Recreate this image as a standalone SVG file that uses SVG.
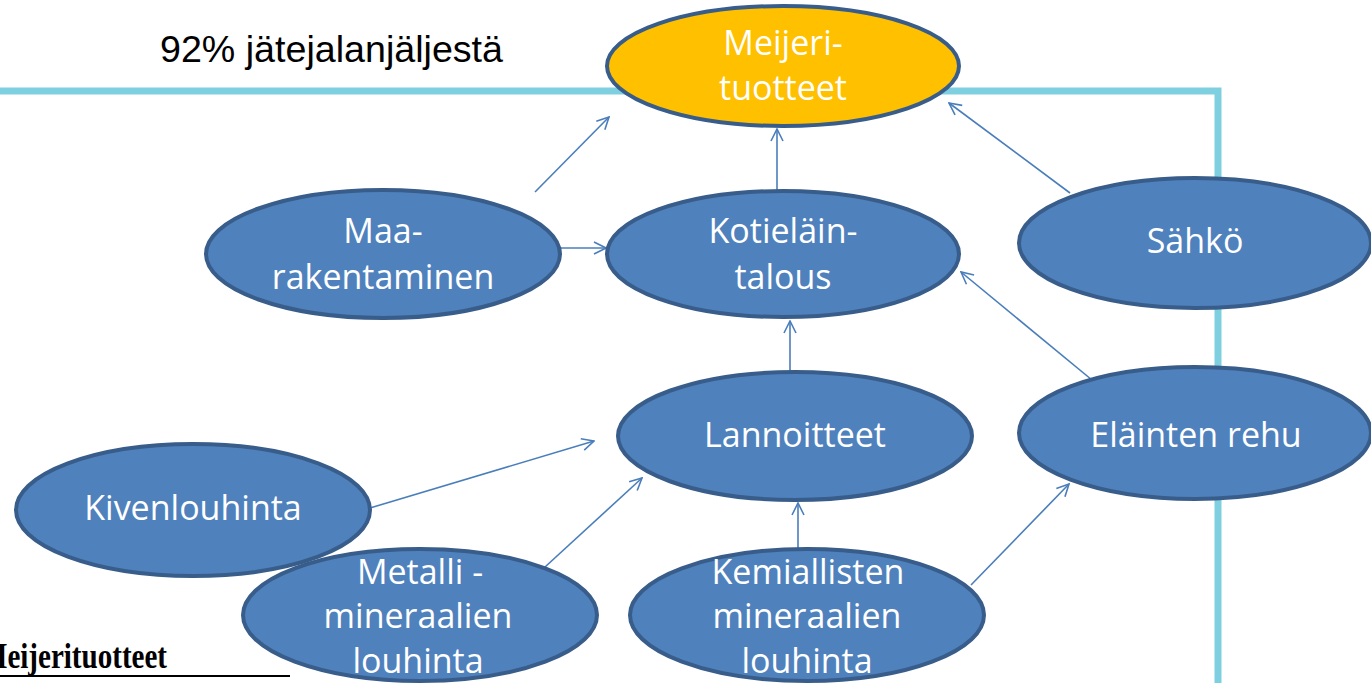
<svg xmlns="http://www.w3.org/2000/svg" width="1371" height="683" viewBox="0 0 1371 683">
<defs>
<style>
.n{fill:#4F81BD;stroke:#385D8A;stroke-width:4}
.y{fill:#FFC000;stroke:#385D8A;stroke-width:4}
.t{fill:#fff;font-family:"Open Sans","Noto Sans",sans-serif;font-size:34px;text-anchor:middle}
.c{stroke:#4A7EBB;stroke-width:1.6;fill:none;marker-end:url(#a)}
</style>
<marker id="a" viewBox="0 0 14 14" refX="13" refY="7" markerWidth="14" markerHeight="14" markerUnits="userSpaceOnUse" orient="auto">
<path d="M1,1 L13,7 L1,13" fill="none" stroke="#4A7EBB" stroke-width="1.6"/>
</marker>
</defs>
<rect width="1371" height="683" fill="#fff"/>
<polyline points="0,91 1218,91 1218,683" fill="none" stroke="#7ECFE0" stroke-width="7"/>
<text x="160" y="62" font-family="Liberation Sans, Arial, sans-serif" font-size="37" textLength="343" lengthAdjust="spacingAndGlyphs" fill="#000">92% jätejalanjäljestä</text>
<text x="-20" y="668" font-family="Liberation Serif, Times New Roman, serif" font-size="35" font-weight="bold" textLength="187" lengthAdjust="spacingAndGlyphs" fill="#000">Meijerituotteet</text>
<line x1="0" y1="676" x2="290" y2="676" stroke="#000" stroke-width="2"/>
<g id="connectors">
<line class="c" x1="535" y1="192" x2="609" y2="117"/>
<line class="c" x1="777" y1="190" x2="777" y2="129"/>
<line class="c" x1="1070" y1="193" x2="949" y2="103"/>
<line class="c" x1="532" y1="248" x2="606" y2="248"/>
<line class="c" x1="790" y1="380" x2="790" y2="321"/>
<line class="c" x1="1092" y1="380" x2="961" y2="272"/>
<line class="c" x1="370" y1="508" x2="594" y2="441"/>
<line class="c" x1="545" y1="567" x2="642" y2="478"/>
<line class="c" x1="798" y1="553" x2="798" y2="503"/>
<line class="c" x1="971" y1="585" x2="1069" y2="484"/>
</g>
<g id="meijeri"><ellipse class="y" cx="783" cy="66" rx="176" ry="60"/><text class="t" x="783" y="55">Meijeri-</text><text class="t" x="783" y="100">tuotteet</text></g>
<g id="kotielain"><ellipse class="n" cx="783" cy="254" rx="176" ry="63"/><text class="t" x="783" y="243">Kotieläin-</text><text class="t" x="783" y="289">talous</text></g>
<g id="maarakentaminen"><ellipse class="n" cx="383" cy="254" rx="177" ry="64"/><text class="t" x="383" y="243">Maa-</text><text class="t" x="383" y="289">rakentaminen</text></g>
<g id="sahko"><ellipse class="n" cx="1195" cy="243" rx="176" ry="65"/><text class="t" x="1195" y="253">Sähkö</text></g>
<g id="lannoitteet"><ellipse class="n" cx="795" cy="436" rx="177" ry="64"/><text class="t" x="795" y="447">Lannoitteet</text></g>
<g id="rehu"><ellipse class="n" cx="1195" cy="433" rx="176" ry="66"/><text class="t" x="1196" y="447">Eläinten rehu</text></g>
<g id="kivenlouhinta"><ellipse class="n" cx="193" cy="510" rx="177" ry="66"/><text class="t" x="193" y="520">Kivenlouhinta</text></g>
<g id="metalli"><ellipse class="n" cx="420" cy="615" rx="177" ry="66"/><text class="t" x="420" y="584">Metalli -</text><text class="t" x="418" y="628">mineraalien</text><text class="t" x="418" y="673">louhinta</text></g>
<g id="kemiallisten"><ellipse class="n" cx="807" cy="615" rx="177" ry="66"/><text class="t" x="808" y="584">Kemiallisten</text><text class="t" x="807" y="628">mineraalien</text><text class="t" x="807" y="673">louhinta</text></g>
</svg>
